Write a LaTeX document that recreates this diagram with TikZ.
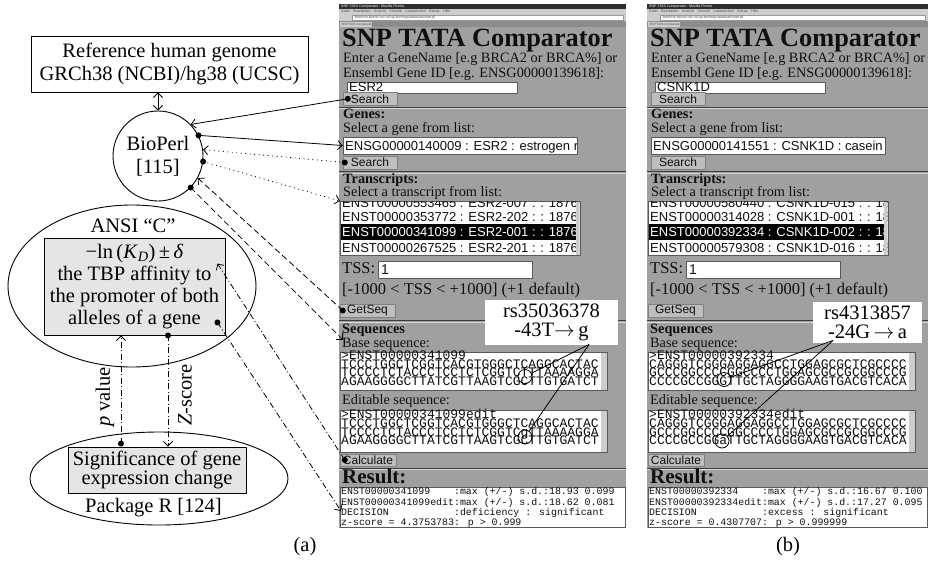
\documentclass[tikz,border=0pt]{standalone}
\usepackage{fontspec}
\setmainfont{Liberation Serif}
\newfontfamily\shotsans{Liberation Sans}
\newfontfamily\shotmono{Liberation Mono}
\usetikzlibrary{arrows.meta,shapes.geometric,calc}
\definecolor{shotbg}{RGB}{160,160,160}
\definecolor{shotdark}{RGB}{45,45,45}
\definecolor{shotlight}{RGB}{205,205,205}
\definecolor{shotmid}{RGB}{140,140,140}
\definecolor{btn}{RGB}{190,190,190}
\definecolor{sept}{RGB}{60,60,60}
\definecolor{shottext}{RGB}{15,15,15}
\definecolor{boxgray}{RGB}{229,229,229}
\newcommand\fsz[2]{\fontsize{#1}{#2}\selectfont}
\newcommand\mstrut[1]{\rule{0pt}{#1}}
\newcommand\tightlines{\lineskiplimit=-100pt\relax}
\tikzset{
  lab/.style={inner sep=0pt, align=center, font=\fsz{20.5}{22}},
  conn/.style={line width=0.8pt},
  tipv/.style={-{Straight Barb[length=4.5pt,width=9pt]}},
  tipboth/.style={{Straight Barb[length=4.5pt,width=9pt]}-{Straight Barb[length=4.5pt,width=9pt]}},
  dotline/.style={dash pattern=on 0.9pt off 3.6pt},
  dashline/.style={dash pattern=on 6pt off 3.5pt},
  ddline/.style={dash pattern=on 6pt off 2.5pt on 1pt off 2.5pt},
  st/.style={anchor=base west, inner sep=0pt, text=shottext, font=\fsz{14.3}{16}},
  ss/.style={st, font=\shotsans\fsz{13}{14}},
  smblock/.style={anchor=north west, inner sep=0pt, align=left, text=shottext, font=\shotmono\fsz{13}{8.7}\tightlines},
  smrblock/.style={anchor=north west, inner sep=0pt, align=left, text=shottext, font=\shotmono\fsz{9.9}{10.2}\tightlines},
  tinyt/.style={st, font=\shotsans\fsz{3.6}{4}, text=black!70},
  field/.style={draw=black!65, fill=white, line width=0.5pt},
  btnst/.style={draw=black!50, fill=btn, line width=0.5pt, inner sep=0pt, text=shottext, font=\shotsans\fsz{12}{12}},
  sepst/.style={draw=sept, line width=1pt},
  seplight/.style={draw=white!60!shotbg, line width=0.6pt},
  circmark/.style={circle, draw, line width=0.8pt, minimum size=14pt, inner sep=0pt},
  calloutbox/.style={fill=white, inner sep=0pt, align=center, font=\fsz{20.5}{18.5}},
}
\newcommand\shotbody[2]{%
 \begin{scope}
 \clip (339,4) rectangle (#2,528);
 \fill[shotbg] (339,4) rectangle (#2,528);
 \fill[shotdark] (339,4) rectangle (#2,8.6);
 \node[tinyt, text=white] (#1wtitle) at (341,7.6) {SNP TATA Comparator - Mozilla Firefox};
 \fill[shotlight] (339,8.6) rectangle (#2,21);
 \node[tinyt] (#1menu) at (341,12.9) {Datei\quad Bearbeiten\quad Ansicht\quad Chronik\quad Lesezeichen\quad Extras\quad Hilfe};
 \filldraw[fill=white, draw=black!40, line width=0.3pt] (352,14.8) rectangle (#2-3,20);
 \node[tinyt] (#1url) at (355,18.6) {beehive.bionet.nsc.ru/cgi-bin/mgs/tatascan/start.pl};
 \fill[shotmid] (339,21) rectangle (#2,27);
 \fill[shotlight] (340,21.8) rectangle (372,27);
 \node[tinyt, font=\shotsans\fsz{3}{3}] (#1tab) at (341.5,25.6) {SNP TATA Comparator};
 \node[st, font=\bfseries\fsz{26.3}{27}] (#1title) at (342,46) {SNP TATA Comparator};
 \node[st] (#1enter) at (343,62) {Enter a GeneName [e.g BRCA2 or BRCA\%] or};
 \node[st] (#1ensembl) at (343,77) {Ensembl Gene ID [e.g. ENSG00000139618]:};
 \filldraw[field] (347,82) rectangle (517,93);
 \node[ss] (#1gene) at (349,91.4) {\sGene};
 \node[btnst, minimum width=54pt, minimum height=12.5pt] (#1search) at (370,98.8) {Search};
 \draw[sepst] (339,107) -- (#2,107);
 \draw[seplight] (339,108.3) -- (#2,108.3);
 \node[st, font=\bfseries\fsz{14.3}{16}] (#1genes) at (343,118) {Genes:};
 \node[st] (#1selg) at (343,132) {Select a gene from list:};
 \node[field, minimum width=234pt, minimum height=17pt, inner sep=0pt] (#1genelist) at (460,145.5) {};
 \begin{scope}
  \clip (343.5,137.5) rectangle (576.5,153.5);
  \node[ss] (#1genetx) at (345,150.3) {\sGeneList};
 \end{scope}
 \node[btnst, minimum width=54pt, minimum height=12.5pt] (#1searchb) at (370,162.5) {Search};
 \draw[sepst] (339,171.5) -- (#2,171.5);
 \draw[seplight] (339,172.8) -- (#2,172.8);
 \node[st, font=\bfseries\fsz{14.3}{16}] (#1trans) at (343,183) {Transcripts:};
 \node[st] (#1selt) at (343,196) {Select a transcript from list:};
 \node[field, minimum width=240pt, minimum height=54pt, inner sep=0pt, anchor=north west] (#1trlist) at (340,201) {};
 \begin{scope}
  \clip (340.5,201.5) rectangle (579.5,254.5);
  \node[ss] (#1tra) at (342,207.6) {\sTrA};
  \node[ss] (#1trb) at (342,221.8) {\sTrB};
  \fill[black] (340.5,224) rectangle (576,240);
  \node[ss, text=white] (#1trc) at (342,236.6) {\sTrC};
  \node[ss] (#1trd) at (342,252.6) {\sTrD};
  \fill[shotlight] (575.5,201.5) rectangle (579.5,254.5);
 \end{scope}
 \node[st, font=\fsz{16.5}{18}] (#1tss) at (342,273) {TSS:};
 \filldraw[field] (378,261) rectangle (532,278);
 \node[ss, font=\shotsans\fsz{14}{14}] (#1tssval) at (381,274.5) {1};
 \node[st, font=\fsz{16.5}{18}] (#1range) at (342,294) {[-1000 < TSS < +1000] (+1 default)};
 \node[btnst, minimum width=55pt, minimum height=13pt] (#1getseq) at (367.5,310.5) {GetSeq};
 \draw[sepst] (339,320.5) -- (#2,320.5);
 \draw[seplight] (339,321.8) -- (#2,321.8);
 \node[st, font=\bfseries\fsz{14.3}{16}] (#1seqs) at (342,333) {Sequences};
 \node[st] (#1basel) at (342,347) {Base sequence:};
 \filldraw[field] (340,352) rectangle (607,390);
 \fill[shotlight] (600.5,352.5) rectangle (606.5,389.5);
 \node[smblock] (#1baseseq) at (341,350.5) {\mstrut{8pt}\sBaseA\\\mstrut{8pt}\sBaseB\\\mstrut{8pt}\sBaseC\\\mstrut{8pt}\sBaseD};
 \node[st] (#1editl) at (342,404) {Editable sequence:};
 \filldraw[field] (340,410) rectangle (607,452);
 \fill[shotlight] (600.5,410.5) rectangle (606.5,451.5);
 \node[smblock] (#1editseq) at (341,409.2) {\mstrut{8pt}\sEditA\\\mstrut{8pt}\sEditB\\\mstrut{8pt}\sEditC\\\mstrut{8pt}\sEditD};
 \node[btnst, minimum width=56pt, minimum height=12pt] (#1calc) at (368,460) {Calculate};
 \draw[sepst] (339,468) -- (#2,468);
 \draw[seplight] (339,469.3) -- (#2,469.3);
 \node[st, font=\bfseries\fsz{21}{22}] (#1result) at (342,483) {Result:};
 \filldraw[field] (340,487) rectangle (#2-1,527);
 \node[smrblock] (#1res) at (341,487.5) {\mstrut{6.5pt}\sResA\\\mstrut{6.5pt}\sResB\\\mstrut{6.5pt}\sResC\\\mstrut{6.5pt}\sResD};
 \end{scope}
}
\begin{document}
\begin{tikzpicture}[x=1pt, y=-1pt, line join=round]
\useasboundingbox (0,0) rectangle (928,573);
\fill[white] (0,0) rectangle (928,573);

% ---------- left panel ----------
\node[draw, line width=0.9pt, minimum width=277pt, minimum height=56pt, lab, font=\fsz{20.5}{23}] (ref) at (169.5,64) {Reference human genome\\GRCh38 (NCBI)/hg38 (UCSC)};
\node[circle, draw, line width=0.9pt, minimum size=90pt, lab, font=\fsz{20.5}{23}] (bio) at (158,156) {BioPerl\\{[115]}};
\draw[conn, tipboth] (ref.south -| bio.north) -- (bio.north);

\node[ellipse, draw, line width=0.9pt, minimum width=248pt, minimum height=162pt] (ansiell) at (132,286) {};
\node[lab, anchor=base] (ansilbl) at (133,232) {ANSI “C”};
\node[draw, fill=boxgray, line width=0.9pt, minimum width=181pt, minimum height=97pt, lab, font=\fsz{20.5}{22}] (ansibox) at (134.5,286.5) {−ln\,(\textit{K}\textsubscript{\textit{D}})\,±\,\textit{δ}\\the TBP affinity to\\the promoter of both\\alleles of a gene};

\node[ellipse, draw, line width=0.9pt, minimum width=258pt, minimum height=93pt] (rell) at (159,478.5) {};
\node[draw, fill=boxgray, line width=0.9pt, minimum width=178pt, minimum height=46pt, lab, font=\fsz{20.5}{18.5}] (sigbox) at (157,470) {Significance of gene\\expression change};
\node[lab, anchor=base] (pkg) at (153.5,512) {Package R [124]};

\coordinate (pvx) at (121,0);
\coordinate (zx) at (168,0);
\coordinate (pvs) at ($(sigbox.north -| pvx)+(0,-3)$);
\draw[conn, ddline, tipv] (pvs) -- (ansibox.south -| pvx);
\fill (pvs) circle (3);
\draw[conn, ddline, tipv] (ansibox.south -| zx) -- (sigbox.north -| zx);
\fill (ansibox.south -| zx) circle (3);
\node[lab, rotate=90] (pvlbl) at (105,397) {\textit{p} value};
\node[lab, rotate=90] (zlbl) at (185,395) {\textit{Z}-score};

\node[lab] (laba) at (305,547) {(a)};
\node[lab] (labb) at (788,547) {(b)};

% ---------- screenshot (a) ----------
\def\sGene{ESR2}
\def\sGeneList{ENSG00000140009 : ESR2 : estrogen r}
\def\sTrA{ENST00000553465 : ESR2-007 : : 1876}
\def\sTrB{ENST00000353772 : ESR2-202 : : 1876}
\def\sTrC{ENST00000341099 : ESR2-001 : : 1876}
\def\sTrD{ENST00000267525 : ESR2-201 : : 1876}
\def\sBaseA{>ENST00000341099}
\def\sBaseB{TCCCTGGCTCGGTCACGTGGGCTCAGGCACTAC}
\def\sBaseC{TCCCCTCTACCCTCCTCTCGGTCTTTAAAAGGA}
\def\sBaseD{AGAAGGGGCTTATCGTTAAGTCGCTTGTGATCT}
\def\sEditA{>ENST00000341099edit}
\def\sEditB{TCCCTGGCTCGGTCACGTGGGCTCAGGCACTAC}
\def\sEditC{TCCCCTCTACCCTCCTCTCGGTCgTTAAAAGGA}
\def\sEditD{AGAAGGGGCTTATCGTTAAGTCGCTTGTGATCT}
\def\sResA{ENST00000341099\hspace{2.4em}:max (+/-) s.d.:18.93 0.099}
\def\sResB{ENST00000341099edit:max (+/-) s.d.:18.62 0.081}
\def\sResC{DECISION\hspace{6.6em}:deficiency : significant}
\def\sResD{z-score = 4.3753783: p > 0.999}
\shotbody{a}{626}
\node[calloutbox, minimum width=133pt, minimum height=45pt] (acall) at (551.5,322.5) {rs35036378\\-43T$\rightarrow$\,g};
\node[circmark] (acircb) at (525,376.5) {};
\node[circmark] (acirce) at (525,437) {};
\coordinate (acallp) at (589,344.5);
\draw[conn] (acallp) -- (acircb);
\draw[conn] (acallp) -- (acirce);

% ---------- screenshot (b) ----------
\begin{scope}[shift={(308,0)}]
\def\sGene{CSNK1D}
\def\sGeneList{ENSG00000141551 : CSNK1D : casein k}
\def\sTrA{ENST00000580440 : CSNK1D-015 : : 18}
\def\sTrB{ENST00000314028 : CSNK1D-001 : : 18}
\def\sTrC{ENST00000392334 : CSNK1D-002 : : 18}
\def\sTrD{ENST00000579308 : CSNK1D-016 : : 18}
\def\sBaseA{>ENST00000392334}
\def\sBaseB{CAGGGTCGGGAGGAGGCCTGGAGCGCTCGCCCC}
\def\sBaseC{GCCCGGCCCCGGCCCCTGGAGCGCCGCGGCCCG}
\def\sBaseD{CCCCGCCGGGTTGCTAGGGGAAGTGACGTCACA}
\def\sEditA{>ENST00000392334edit}
\def\sEditB{CAGGGTCGGGAGGAGGCCTGGAGCGCTCGCCCC}
\def\sEditC{GCCCGGCCCCGGCCCCTGGAGCGCCGCGGCCCG}
\def\sEditD{CCCCGCCGGaTTGCTAGGGGAAGTGACGTCACA}
\def\sResA{ENST00000392334\hspace{2.4em}:max (+/-) s.d.:16.67 0.100}
\def\sResB{ENST00000392334edit:max (+/-) s.d.:17.27 0.095}
\def\sResC{DECISION\hspace{6.6em}:excess : significant}
\def\sResD{z-score = 0.4307707: p > 0.999999}
\shotbody{b}{620}
\node[calloutbox, minimum width=109pt, minimum height=41pt] (bcall) at (559.5,322.5) {rs4313857\\-24G$\,\rightarrow$\,a};
\node[circmark] (bcircb) at (416,379.5) {};
\node[circmark] (bcirce) at (414,441) {};
\coordinate (bcallp) at (525,340.5);
\draw[conn] (bcallp) -- (bcircb);
\draw[conn] (bcallp) -- (bcirce);
\end{scope}

% ---------- connectors BioPerl <-> screenshot (a) ----------
\coordinate (d1) at ($(asearch.west)+(5,0)$);
\draw[conn, tipv] (d1) -- (bio.44);
\fill (d1) circle (3);
\draw[conn, tipv] (bio.27) -- (agenelist.west);
\fill (bio.27) circle (3);
\coordinate (d3) at ($(asearchb.west)+(2,0)$);
\draw[conn, dotline, tipv] (d3) -- (bio.8);
\fill (d3) circle (3);
\draw[conn, dotline, tipv] (bio.-7) -- (atrlist.north west);
\fill (bio.-7) circle (3);
\coordinate (d5) at ($(agetseq.west)+(3,0)$);
\draw[conn, dashline, tipv] (d5) -- (bio.-29);
\fill (d5) circle (3);
\coordinate (aseqin) at ($(abasel.west)+(1,-4)$);
\draw[conn, dashline, tipv] (bio.-44) -- (aseqin);
\fill (bio.-44) circle (3);
\coordinate (d7) at ($(acalc.west)+(5,0)$);
\coordinate (ansiin) at ($(ansibox.north east)+(-8,26)$);
\draw[conn, ddline, tipv] (d7) -- (ansiin);
\fill (d7) circle (3);
\coordinate (ansiout) at ($(ansibox.south east)+(-8,-13)$);
\coordinate (adecin) at (341,511);
\draw[conn, ddline, tipv] (ansiout) -- (adecin);
\fill (ansiout) circle (3);
\end{tikzpicture}
\end{document}
